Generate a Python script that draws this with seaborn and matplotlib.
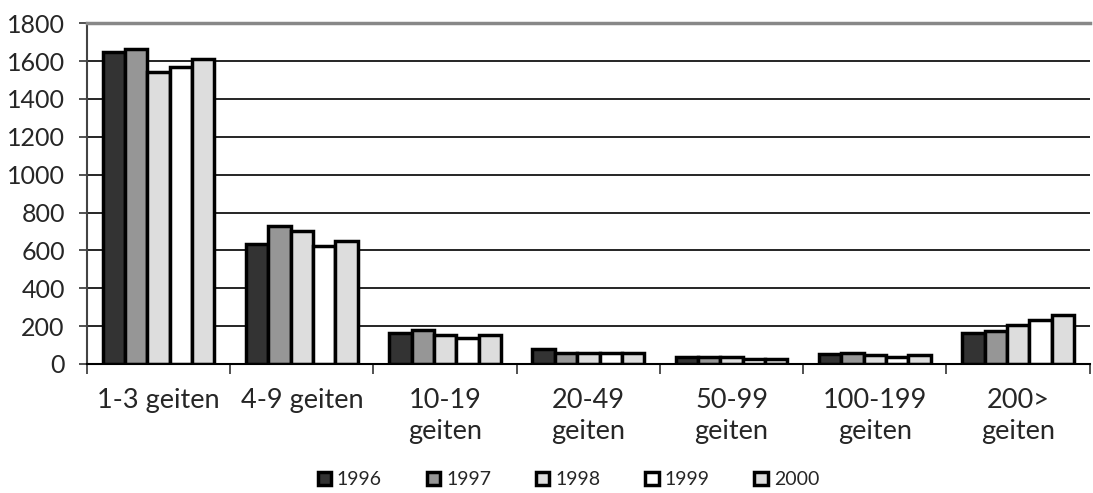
import pandas as pd
import numpy as np
import seaborn as sns
import matplotlib.pyplot as plt
from matplotlib.ticker import FixedLocator

categories = ['1-3 geiten', '4-9 geiten', '10-19\ngeiten', '20-49\ngeiten',
              '50-99\ngeiten', '100-199\ngeiten', '200>\ngeiten']
years = ['1996', '1997', '1998', '1999', '2000']
v1996 = [1650, 635, 165, 80, 35, 55, 165]
v1997 = [1665, 730, 180, 60, 35, 60, 175]
v1998 = [1540, 700, 155, 60, 35, 45, 205]
v1999 = [1570, 625, 135, 60, 25, 35, 230]
v2000 = [1610, 650, 155, 60, 25, 45, 260]
colors = ['#333333', '#969696', '#dddddd', '#ffffff', '#dddddd']

df = pd.DataFrame({'cat': categories * 5,
                   'year': np.repeat(years, len(categories)),
                   'value': v1996 + v1997 + v1998 + v1999 + v2000})

sns.set_style('white')
plt.rcParams['font.family'] = ['Lato', 'DejaVu Sans']

fig = plt.figure(figsize=(10.93, 4.93), dpi=100)
ax = fig.add_axes([0.0796, 0.2617, 0.9174, 0.6913])
sns.barplot(data=df, x='cat', y='value', hue='year', palette=colors,
            width=0.78, edgecolor='black', linewidth=2.5, saturation=1,
            ax=ax, legend=True)

ax.set_ylim(0, 1800)
ax.set_xlim(-0.5, 6.5)
ax.set_yticks(range(0, 1801, 200))
ax.yaxis.grid(True, color='black', linewidth=1.2)
ax.set_axisbelow(True)
ax.set_xlabel('')
ax.set_ylabel('')
ax.tick_params(axis='y', labelsize=18, length=6, width=1.2, color='#333333', left=True, pad=10)
ax.tick_params(axis='x', which='major', labelsize=19.5, length=0, pad=17)
for t in ax.get_xticklabels():
    t.set_linespacing(1.3)
ax.xaxis.set_minor_locator(FixedLocator(np.arange(-0.5, 7, 1)))
ax.tick_params(axis='x', which='minor', length=7, width=1.2, color='#333333', bottom=True)

ax.spines['right'].set_visible(False)
ax.spines['top'].set_color('#888888')
ax.spines['top'].set_linewidth(2.5)
ax.spines['left'].set_color('#444444')
ax.spines['left'].set_linewidth(1.5)
ax.spines['bottom'].set_color('black')
ax.spines['bottom'].set_linewidth(1.5)

ax.legend(loc='center', bbox_to_anchor=(0.48, -0.34), ncol=5, frameon=False,
          fontsize=14, handlelength=0.7, handleheight=0.7, handletextpad=0.3,
          columnspacing=2.3)

fig.savefig('out.png', dpi=100)
